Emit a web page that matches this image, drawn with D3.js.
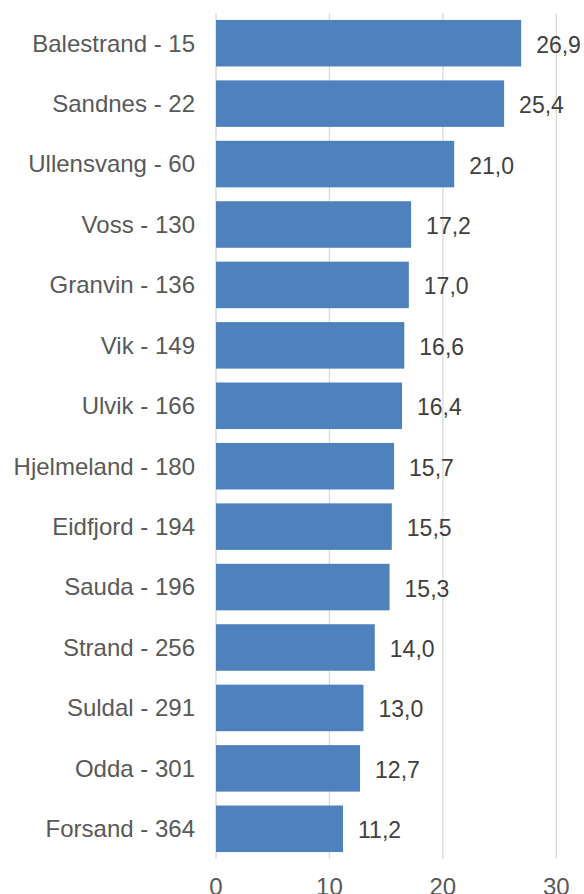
<!DOCTYPE html>
<html>
<head>
<meta charset="utf-8">
<script src="https://cdn.jsdelivr.net/npm/d3@7"></script>
<style>
  html, body { margin: 0; padding: 0; background: #fff; overflow: hidden; }
  svg { display: block; font-family: "Liberation Sans", Arial, sans-serif; }
</style>
</head>
<body>
<div id="chart"></div>
<script>
const categories = [
    "Balestrand - 15", "Sandnes - 22", "Ullensvang - 60", "Voss - 130",
    "Granvin - 136", "Vik - 149", "Ulvik - 166", "Hjelmeland - 180",
    "Eidfjord - 194", "Sauda - 196", "Strand - 256", "Suldal - 291",
    "Odda - 301", "Forsand - 364"
];
const values = [26.9, 25.4, 21.0, 17.2, 17.0, 16.6, 16.4, 15.7, 15.5, 15.3, 14.0, 13.0, 12.7, 11.2];
const tickValues = [0, 10, 20, 30];

const width = 584, height = 894;
const svg = d3.select("#chart").append("svg")
    .attr("width", width)
    .attr("height", height);

const x = d3.scaleLinear().domain([0, 30]).range([216, 556.3]);
const y = d3.scaleBand()
    .domain(categories)
    .range([13, 859])
    .paddingInner(0.23)
    .paddingOuter(0.115);

// gridlines
svg.append("g")
    .selectAll("line")
    .data(tickValues)
    .enter()
    .append("line")
    .attr("x1", (d) => x(d))
    .attr("x2", (d) => x(d))
    .attr("y1", 13)
    .attr("y2", 859)
    .attr("stroke", "#d9d9d9")
    .attr("stroke-width", 1.3);

// x tick labels (cut by the bottom edge, as in the original)
svg.append("g")
    .selectAll("text")
    .data(tickValues)
    .enter()
    .append("text")
    .attr("x", (d) => x(d))
    .attr("y", 895)
    .attr("text-anchor", "middle")
    .attr("font-size", 24)
    .attr("fill", "#595959")
    .text((d) => d);

const data = categories.map((c, i) => ({ name: c, value: values[i] }));

// bars
svg.append("g")
    .selectAll("rect")
    .data(data)
    .enter()
    .append("rect")
    .attr("x", x(0))
    .attr("y", (d) => y(d.name))
    .attr("width", (d) => x(d.value) - x(0))
    .attr("height", y.bandwidth())
    .attr("fill", "#4f81bd");

// category labels
svg.append("g")
    .selectAll("text")
    .data(data)
    .enter()
    .append("text")
    .attr("x", 195)
    .attr("y", (d) => y(d.name) + y.bandwidth() / 2)
    .attr("dy", "0.35em")
    .attr("text-anchor", "end")
    .attr("font-size", 24)
    .attr("fill", "#595959")
    .text((d) => d.name);

// value labels
const fmt = (v) => v.toFixed(1).replace(".", ",");
svg.append("g")
    .selectAll("text")
    .data(data)
    .enter()
    .append("text")
    .attr("x", (d) => x(d.value) + 15)
    .attr("y", (d) => y(d.name) + y.bandwidth() / 2 + 1.5)
    .attr("dy", "0.35em")
    .attr("font-size", 23)
    .attr("fill", "#404040")
    .text((d) => fmt(d.value));
</script>
</body>
</html>
